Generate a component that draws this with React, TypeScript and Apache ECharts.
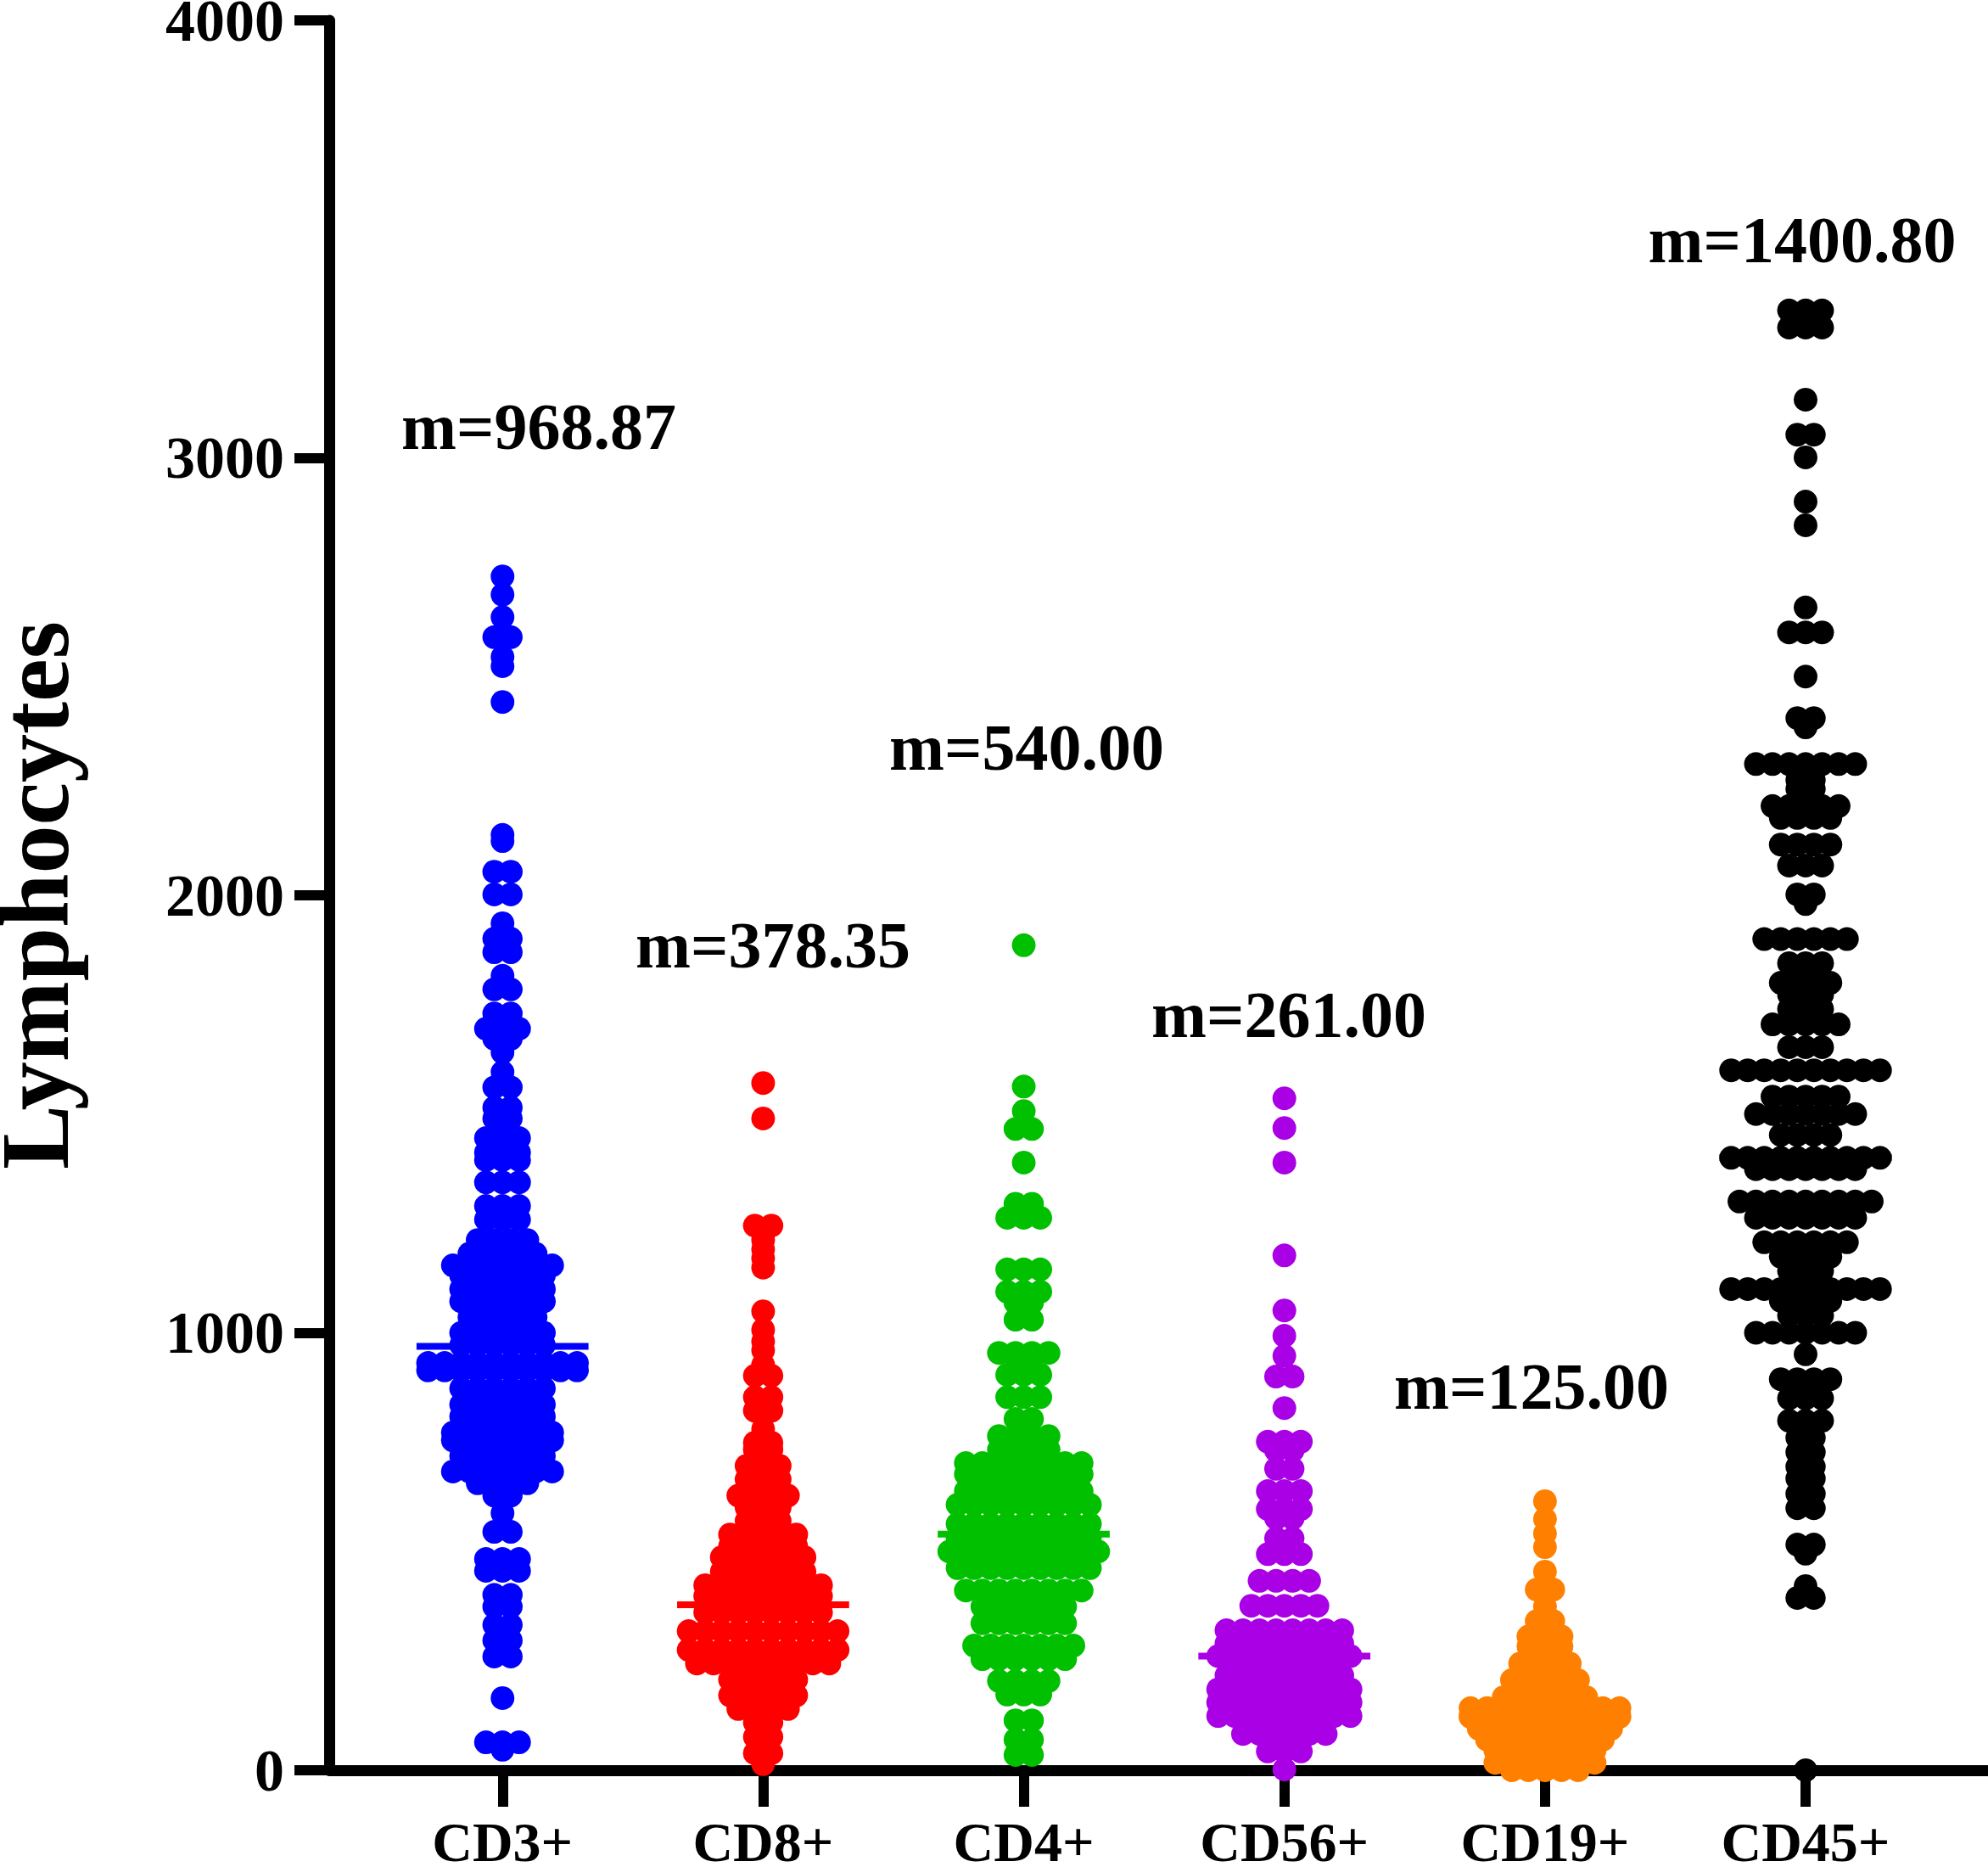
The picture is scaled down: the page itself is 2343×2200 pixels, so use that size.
import React, { useEffect, useRef } from "react";
import * as echarts from "echarts";

// ---------- data ----------
const categories = ["CD3+", "CD8+", "CD4+", "CD56+", "CD19+", "CD45+"];
const colors = ["#0000FF", "#FF0000", "#00C000", "#A900E6", "#FF8000", "#000000"];
const means = [968.87, 378.35, 540.0, 261.0, 125.0, 1400.8];
const yTicks = [0, 1000, 2000, 3000, 4000];

// [value, number of points side by side in that row of the swarm]
const cd3Rows = [
  [2729, 1], [2687, 1], [2636, 1], [2590, 2], [2545, 1], [2524, 1], [2442, 1],
  [2138, 1], [2124, 1], [2054, 2], [2002, 2], [1936, 1], [1901, 2], [1870, 2], [1816, 1], [1785, 2],
  [1730, 2], [1695, 3], [1672, 2], [1641, 1], [1596, 1], [1561, 2], [1515, 2], [1490, 2], [1445, 3], [1412, 3],
  [1395, 3], [1344, 3], [1290, 3], [1259, 3], [1212, 4], [1181, 5], [1154, 7], [1131, 6], [1100, 6], [1072, 6],
  [1036, 5], [1000, 6], [972, 6], [931, 10], [914, 10], [873, 6], [836, 6], [809, 6], [772, 7], [754, 7],
  [718, 6], [683, 7], [656, 4], [628, 2], [588, 1], [545, 2], [483, 3], [456, 3], [401, 2], [374, 2],
  [332, 2], [297, 2], [260, 2], [165, 1], [64, 3], [47, 1],
];
const cd8Rows = [
  [1571, 1], [1490, 1], [1245, 2], [1212, 1], [1191, 1], [1170, 1], [1149, 1], [1049, 1], [1007, 1], [980, 1],
  [960, 1], [927, 1], [902, 2], [853, 2], [822, 2], [780, 1], [749, 2], [733, 2], [696, 3], [665, 3], [628, 4],
  [601, 3], [570, 3], [539, 5], [512, 5], [487, 6], [454, 6], [423, 8], [398, 8], [361, 8], [318, 10], [275, 10],
  [244, 9], [207, 5], [171, 5], [140, 4], [109, 2], [76, 2], [39, 2], [14, 1],
];
const cd4Rows = [
  [1886, 1], [1563, 1], [1507, 1], [1466, 2], [1389, 1], [1295, 2], [1263, 3], [1145, 3], [1094, 3], [1069, 2],
  [1030, 2], [954, 4], [943, 2], [904, 3], [853, 3], [803, 2], [764, 4], [733, 4], [702, 8], [677, 8], [638, 8],
  [607, 9], [563, 9], [532, 9], [500, 10], [462, 9], [411, 8], [374, 6], [336, 6], [285, 7], [254, 6], [204, 4],
  [173, 3], [114, 2], [70, 2], [35, 2],
];
const cd56Rows = [
  [1536, 1], [1468, 1], [1389, 1], [1177, 1], [1051, 1], [993, 1], [947, 1], [900, 2], [828, 1], [751, 3],
  [731, 2], [689, 2], [638, 3], [597, 3], [576, 2], [530, 2], [494, 3], [433, 4], [376, 5], [320, 8], [290, 8],
  [261, 9], [217, 8], [185, 9], [155, 9], [124, 9], [83, 6], [43, 3], [2, 1],
];
const cd19Rows = [
  [615, 1], [574, 1], [541, 1], [510, 1], [454, 1], [413, 2], [374, 1], [341, 2], [306, 3], [283, 3], [244, 4],
  [206, 5], [167, 6], [142, 10], [122, 10], [95, 9], [70, 8], [45, 7], [17, 7], [0, 5],
];
const cd45Rows = [
  [3337, 3], [3298, 3], [3133, 1], [3053, 2], [3001, 1], [2900, 1], [2846, 1], [2658, 1], [2601, 3], [2500, 1],
  [2405, 2], [2384, 1], [2300, 7], [2264, 2], [2243, 2], [2204, 5], [2177, 4], [2116, 4], [2068, 3], [2002, 2],
  [1980, 1], [1900, 6], [1845, 3], [1800, 4], [1773, 3], [1740, 3], [1705, 5], [1653, 3], [1600, 10],
  [1540, 5], [1500, 7], [1452, 4], [1400, 10], [1374, 7], [1300, 9], [1263, 7], [1207, 6], [1174, 4],
  [1141, 3], [1100, 10], [1073, 4], [1040, 3], [1000, 7], [951, 1], [894, 4], [850, 3], [799, 3], [760, 2],
  [727, 2], [694, 2], [667, 2], [632, 2], [599, 2], [516, 2], [495, 1], [421, 1], [394, 2], [0, 1],
];
const groupRows = [cd3Rows, cd8Rows, cd4Rows, cd56Rows, cd19Rows, cd45Rows];

// ---------- layout ----------
const W = 2343;
const H = 2200;
const GRID = { left: 388, right: 0, top: 24, bottom: 114 };
const X_MIN = 0.335;
const X_MAX = 6.7;
const Y_MAX = 4000;
const DOT = 28;
const SPACING = 19.5; // px between neighbouring dots of one row
const HALF_MEAN = 0.33;
const FONT = "Liberation Serif";

const labelPos = [
  [635, 502], [911, 1113], [1210, 880], [1519, 1195], [1805, 1633], [2124, 282],
];

export default function App() {
  const ref = useRef<HTMLDivElement>(null);
  useEffect(() => {
    if (!ref.current) return;
    const chart = echarts.init(ref.current, undefined, { renderer: "svg" });
    const gridW = W - GRID.left - GRID.right;
    const unitsPerPx = (X_MAX - X_MIN) / gridW;

    const series: any[] = [];
    groupRows.forEach((rows, gi) => {
      const data: number[][] = [];
      rows.forEach(([v, n]) => {
        for (let k = 0; k < n; k++) {
          const off = (k - (n - 1) / 2) * SPACING;
          data.push([gi + 1 + off * unitsPerPx, v]);
        }
      });
      series.push({
        type: "scatter",
        name: categories[gi],
        symbol: "circle",
        symbolSize: DOT,
        clip: false,
        itemStyle: { color: colors[gi], opacity: 1 },
        data,
        z: 2,
      });
      series.push({
        type: "line",
        symbol: "none",
        clip: false,
        lineStyle: { color: colors[gi], width: 8 },
        data: [[gi + 1 - HALF_MEAN, means[gi]], [gi + 1 + HALF_MEAN, means[gi]]],
        z: 3,
      });
    });

    const option: any = {
      animation: false,
      backgroundColor: "#ffffff",
      grid: { ...GRID, containLabel: false, outerBoundsMode: "none" },
      xAxis: {
        type: "value",
        min: X_MIN,
        max: X_MAX,
        splitLine: { show: false },
        axisLine: { show: true, onZero: false, lineStyle: { color: "#000", width: 13 } },
        axisTick: { show: true, customValues: [1, 2, 3, 4, 5, 6], length: 43, lineStyle: { color: "#000", width: 12 } },
        axisLabel: {
          show: true,
          customValues: [1, 2, 3, 4, 5, 6],
          formatter: (v: number) => categories[Math.round(v) - 1] ?? "",
          margin: 64,
          lineHeight: 40,
          color: "#000",
          fontFamily: FONT,
          fontWeight: "bold",
          fontSize: 66,
        },
      },
      yAxis: {
        type: "value",
        min: 0,
        max: Y_MAX,
        interval: 1000,
        splitLine: { show: false },
        axisLine: { show: true, lineStyle: { color: "#000", width: 13 } },
        axisTick: { show: true, length: 41, lineStyle: { color: "#000", width: 12 } },
        axisLabel: {
          margin: 53,
          lineHeight: 46,
          color: "#000",
          fontFamily: FONT,
          fontWeight: "bold",
          fontSize: 70,
          formatter: (v: number) => (yTicks.includes(v) ? String(v) : ""),
        },
        name: "Lymphocytes",
        nameLocation: "middle",
        nameGap: 307,
        nameTextStyle: { color: "#000", fontFamily: FONT, fontWeight: "bold", fontSize: 114, lineHeight: 80 },
      },
      graphic: means.map((m, i) => ({
        type: "text",
        x: labelPos[i][0],
        y: labelPos[i][1],
        z: 10,
        style: {
          text: "m=" + m.toFixed(2),
          fill: "#000",
          fontFamily: FONT,
          fontWeight: "bold",
          fontSize: 78,
          align: "center",
          verticalAlign: "middle",
        },
      })),
      series,
    };
    chart.setOption(option);
    return () => chart.dispose();
  }, []);
  return (
    <div
      ref={ref}
      style={{ position: "absolute", left: 0, top: 0, width: W, height: H, background: "#fff" }}
    />
  );
}
